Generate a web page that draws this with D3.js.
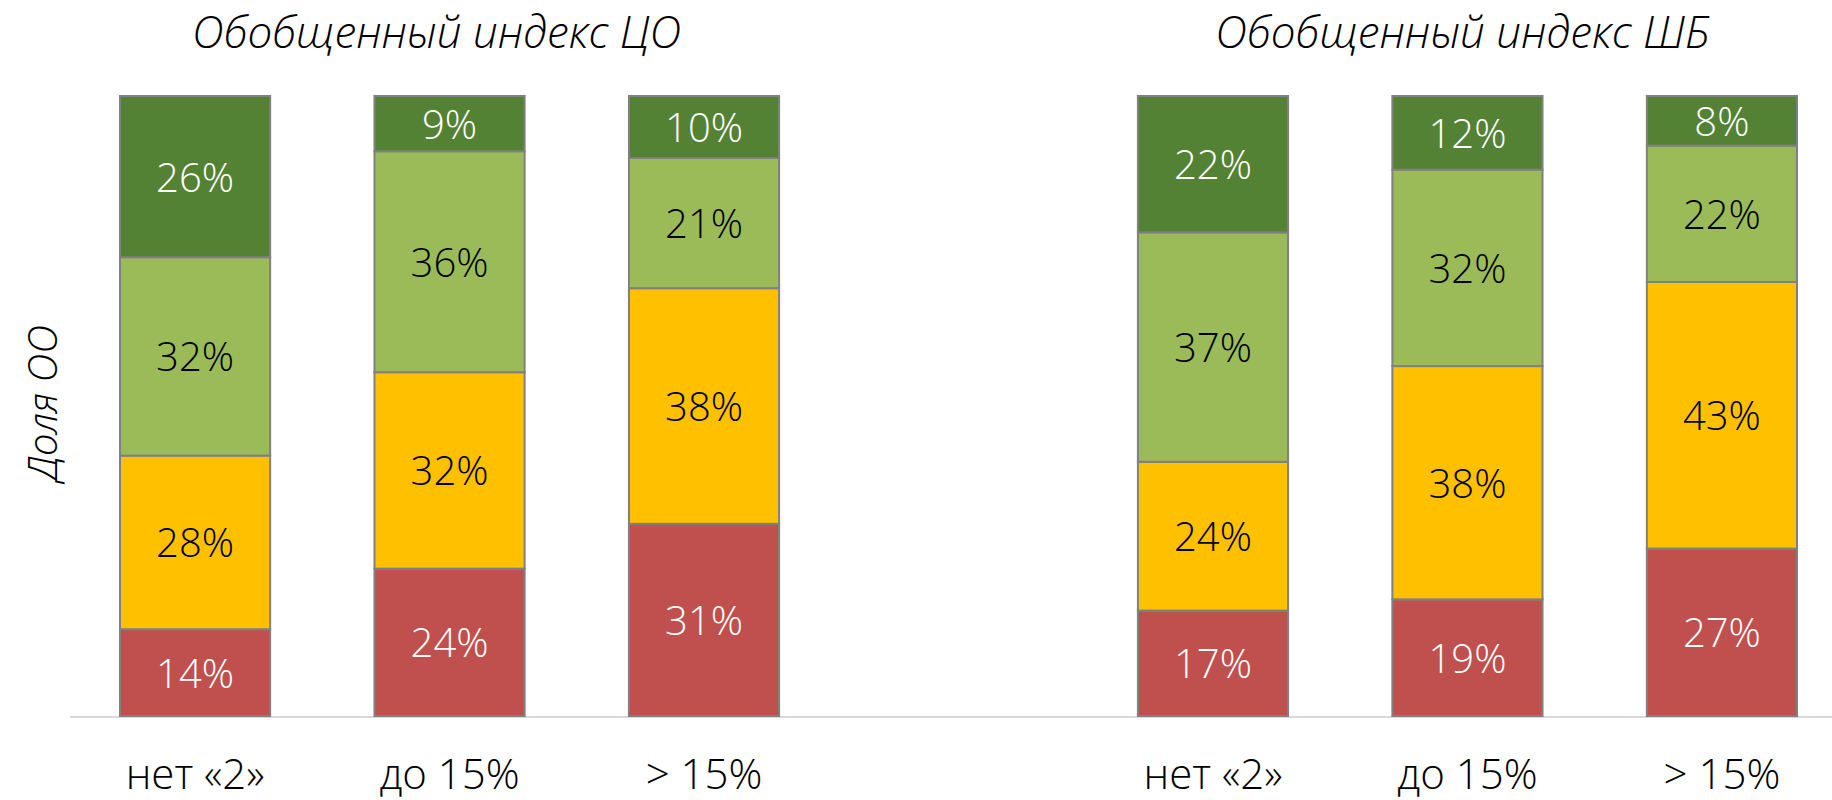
<!DOCTYPE html>
<html>
<head>
<meta charset="utf-8">
<script src="https://cdn.jsdelivr.net/npm/d3@7"></script>
<style>
  html, body { margin: 0; padding: 0; background: #fff; }
  svg { display: block; }
  text { font-family: "Open Sans", "Noto Sans", sans-serif; }
</style>
</head>
<body>
<svg width="1832" height="800"></svg>
<script>
const width = 1832;
const height = 800;

// data
var groups = ["Обобщенный индекс ЦО", "Обобщенный индекс ШБ"];
var categories = ["нет «2»", "до 15%", "> 15%"];
var seriesNames = ["red", "yellow", "lightgreen", "darkgreen"];
var colors = ["#C0504D", "#FFC000", "#9BBB59", "#548235"];
var labelColors = ["#ffffff", "#000000", "#000000", "#ffffff"];

var valuesCO = [
    [14, 28, 32, 26],
    [24, 32, 36, 9],
    [31, 38, 21, 10]
];
var valuesSHB = [
    [17, 24, 37, 22],
    [19, 38, 32, 12],
    [27, 43, 22, 8]
];

// build rows: three bars, an empty slot, three bars
var rows = [];
categories.forEach(function (c, i) {
    var r = { key: "CO" + i, label: c };
    seriesNames.forEach(function (s, j) { r[s] = valuesCO[i][j]; });
    rows.push(r);
});
rows.push({ key: "gap", label: "", red: 0, yellow: 0, lightgreen: 0, darkgreen: 0 });
categories.forEach(function (c, i) {
    var r = { key: "SHB" + i, label: c };
    seriesNames.forEach(function (s, j) { r[s] = valuesSHB[i][j]; });
    rows.push(r);
});
var barRows = rows.filter(function (d) { return d.key != "gap"; });

var svg = d3.select("svg");

var x = d3.scaleBand()
    .domain(rows.map(function (d) { return d.key; }))
    .range([120, 1797])
    .paddingInner(0.41)
    .paddingOuter(0);

var y = d3.scaleLinear()
    .domain([0, 1])
    .range([716, 96]);

var stack = d3.stack()
    .keys(seriesNames)
    .offset(d3.stackOffsetExpand);

var layers = stack(barRows);

// baseline
svg.append("line")
    .attr("x1", 70).attr("x2", width)
    .attr("y1", y(0) + 1).attr("y2", y(0) + 1)
    .attr("stroke", "#d9d9d9")
    .attr("stroke-width", 2);

var layer = svg.selectAll("g.layer")
    .data(layers)
    .join("g")
    .attr("class", "layer");

layer.selectAll("rect")
    .data(function (d) { return d; })
    .join("rect")
    .attr("x", function (d) { return x(d.data.key); })
    .attr("y", function (d) { return y(d[1]); })
    .attr("width", x.bandwidth())
    .attr("height", function (d) { return y(d[0]) - y(d[1]); })
    .attr("fill", function (d) { return colors[seriesNames.indexOf(d3.select(this.parentNode).datum().key)]; })
    .attr("stroke", "#808080")
    .attr("stroke-width", 2);

layer.selectAll("text")
    .data(function (d) { return d; })
    .join("text")
    .attr("x", function (d) { return x(d.data.key) + x.bandwidth() / 2; })
    .attr("y", function (d) { return (y(d[0]) + y(d[1])) / 2 + 15; })
    .attr("text-anchor", "middle")
    .style("font-size", "40px")
    .style("font-weight", 300)
    .attr("fill", function (d) { return labelColors[seriesNames.indexOf(d3.select(this.parentNode).datum().key)]; })
    .text(function (d) { return d.data[d3.select(this.parentNode).datum().key] + "%"; });

// category labels
svg.selectAll("text.cat")
    .data(barRows)
    .join("text")
    .attr("class", "cat")
    .attr("x", function (d) { return x(d.key) + x.bandwidth() / 2; })
    .attr("y", 789)
    .attr("text-anchor", "middle")
    .style("font-size", "42px")
    .style("font-weight", 300)
    .attr("fill", "#000")
    .text(function (d) { return d.label; });

// group titles
svg.selectAll("text.title")
    .data(groups)
    .join("text")
    .attr("class", "title")
    .attr("x", function (d, i) { return x(i == 0 ? "CO1" : "SHB1") + x.bandwidth() / 2 - (i == 0 ? 13 : 5); })
    .attr("y", 48)
    .attr("text-anchor", "middle")
    .style("font-size", "44px")
    .style("font-style", "italic")
    .style("font-weight", 300)
    .attr("fill", "#000")
    .text(function (d) { return d; });

// y axis title
svg.append("text")
    .attr("transform", "translate(57," + 403 + ") rotate(-90)")
    .attr("text-anchor", "middle")
    .style("font-size", "40px")
    .style("font-style", "italic")
    .style("font-weight", 300)
    .attr("fill", "#000")
    .text("Доля ОО");
</script>
</body>
</html>
